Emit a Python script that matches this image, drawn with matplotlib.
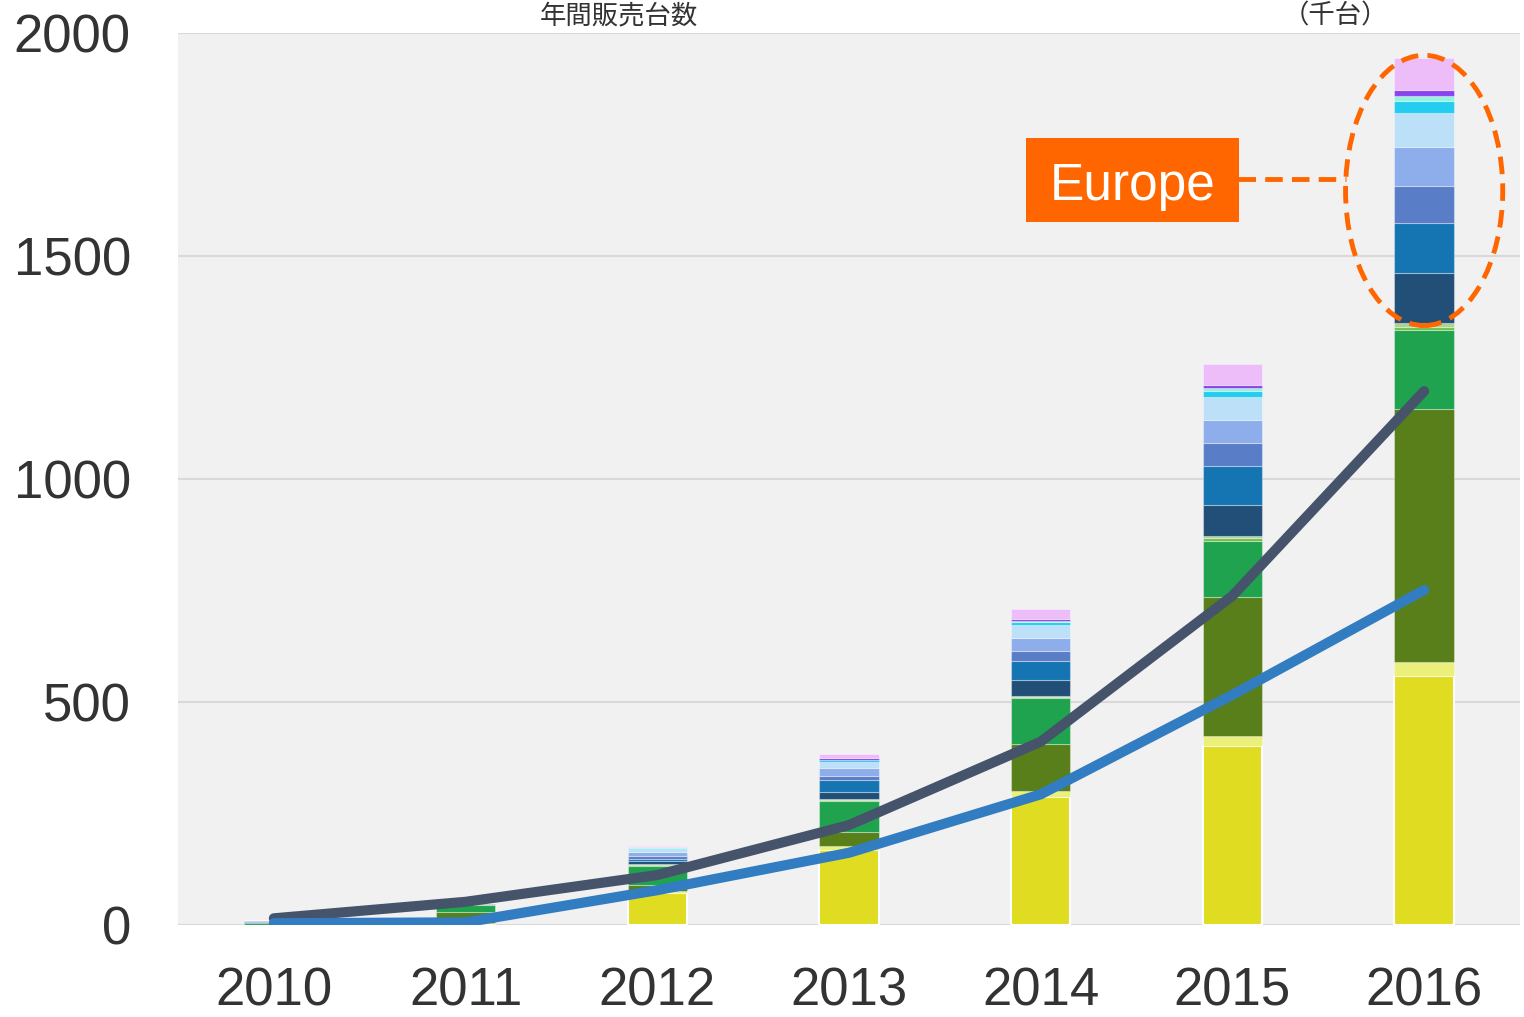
import matplotlib
matplotlib.use("Agg")
import matplotlib.pyplot as plt
from matplotlib.patches import Ellipse, Rectangle
import numpy as np

plt.rcParams['font.family'] = ['Liberation Sans', 'Noto Sans CJK JP', 'DejaVu Sans']

# ---------------- data ----------------
years = ["2010", "2011", "2012", "2013", "2014", "2015", "2016"]

china_bev   = [0, 3, 72, 168, 288, 402, 559]
china_phev  = [0, 1, 4, 9, 12, 22, 31]
china_other = [0, 26, 14, 32, 105, 311, 568]
us_bev      = [5, 15, 43, 70, 103, 127, 175]
us_phev     = [0, 1, 2, 2, 3, 5, 8]
us_other    = [0, 1, 2, 1, 2, 5, 8]
eu_1        = [1, 0.5, 6, 17, 36, 70, 114]
eu_2        = [1, 0.5, 6, 26, 43, 87, 110]
eu_3        = [2, 0.3, 6, 9, 22, 51, 85]
eu_4        = [2, 0.3, 9, 18, 30, 53, 86]
eu_5        = [1, 0.3, 6, 14, 29, 50, 77]
eu_6        = [0, 0.1, 3, 4, 7, 15, 27]
eu_7        = [0, 0, 1, 1, 2, 6, 11]
eu_8        = [0, 0.3, 1, 3, 3, 7, 13]
eu_9        = [0, 1, 3, 9, 23, 46, 73]

line_total = [15, 52, 112, 224, 411, 738, 1197]
line_bev   = [4, 6, 78, 162, 293, 516, 751]

series = [china_bev, china_phev, china_other, us_bev, us_phev, us_other,
          eu_1, eu_2, eu_3, eu_4, eu_5, eu_6, eu_7, eu_8, eu_9]
colors = ['#e0dc22', '#ebf07a', '#587f19', '#1fa34f', '#72c04e', '#a9d68c',
          '#214f78', '#1575b3', '#5a7dc8', '#8daeea', '#bce0f7', '#24cdf0',
          '#8ff5dc', '#8a44ef', '#ecbdf9']
n_non_europe = 6

# ---------------- figure ----------------
fig = plt.figure(figsize=(15.24, 10.17), dpi=100)
ax = fig.add_axes([178/1524, 92/1017, (1520-178)/1524, (925-33)/1017])
ax.set_facecolor('#f1f1f1')

x = np.arange(len(years))
bottom = np.zeros(len(years))
for i, (s, c) in enumerate(zip(series, colors)):
    s = np.array(s, dtype=float)
    if i == 0:
        ax.bar(x, s, 0.31, bottom=bottom, color=c, edgecolor='white',
               linewidth=1.5, zorder=2)
    else:
        ax.bar(x, s, 0.31, bottom=bottom, color=c,
               edgecolor=(1, 1, 1, 0.35), linewidth=0.8, zorder=2)
    bottom += s

ax.plot(x, line_total, color='#46546b', lw=7.3, solid_capstyle='round',
        solid_joinstyle='round', zorder=4)
ax.plot(x, line_bev, color='#327dc2', lw=7.3, solid_capstyle='round',
        solid_joinstyle='round', zorder=4)

ax.set_xlim(-0.5, 6.5)
ax.set_ylim(0, 2000)
ax.set_yticks([0, 500, 1000, 1500, 2000])
ax.set_xticks(x)
ax.set_xticklabels(years)
ax.yaxis.grid(True, color='#d9d9d9', lw=1.5, zorder=0)
ax.set_axisbelow(True)
for sp in ax.spines.values():
    sp.set_visible(False)
ax.tick_params(axis='both', length=0, labelsize=38, colors='#333333')
ax.tick_params(axis='y', pad=34)
ax.tick_params(axis='x', pad=30)

# Europe ellipse annotation, derived from the 2016 stack
eu_bottom = sum(s[-1] for s in series[:n_non_europe])
eu_top = sum(s[-1] for s in series)
cy = (eu_bottom + eu_top) / 2
ell = Ellipse((x[-1], cy), 0.82, (eu_top - eu_bottom) + 10, fill=False,
              edgecolor='#ff6600', lw=3.5, ls=(0, (3.6, 1.9)), zorder=5, clip_on=False)
ax.add_patch(ell)

ax.plot([x[-1] - 0.41 - 0.56, x[-1] - 0.41], [1672, 1672], color='#ff6600',
        lw=3.5, ls=(0, (3.6, 1.9)), zorder=5)

# orange label box (axes-fraction coordinates)
ax.add_patch(Rectangle((0.6319, 0.7881), 0.1587, 0.0942, transform=ax.transAxes,
                       facecolor='#ff6600', edgecolor='none', zorder=6))
ax.text(0.7116, 0.8128, "Europe", fontsize=37, color='white',
        ha='center', va='baseline', transform=ax.transAxes, zorder=7)

# title
fig.text(540/1524, 1 - 2/1017, "年間販売台数", fontsize=19, color='#333333',
         family=['Noto Sans CJK JP'], ha='left', va='top')
fig.text(1283/1524, 1 - 2/1017, "（千台）", fontsize=19, color='#333333',
         family=['Noto Sans CJK JP'], ha='left', va='top')

fig.savefig("out.png", dpi=100, facecolor='white')
